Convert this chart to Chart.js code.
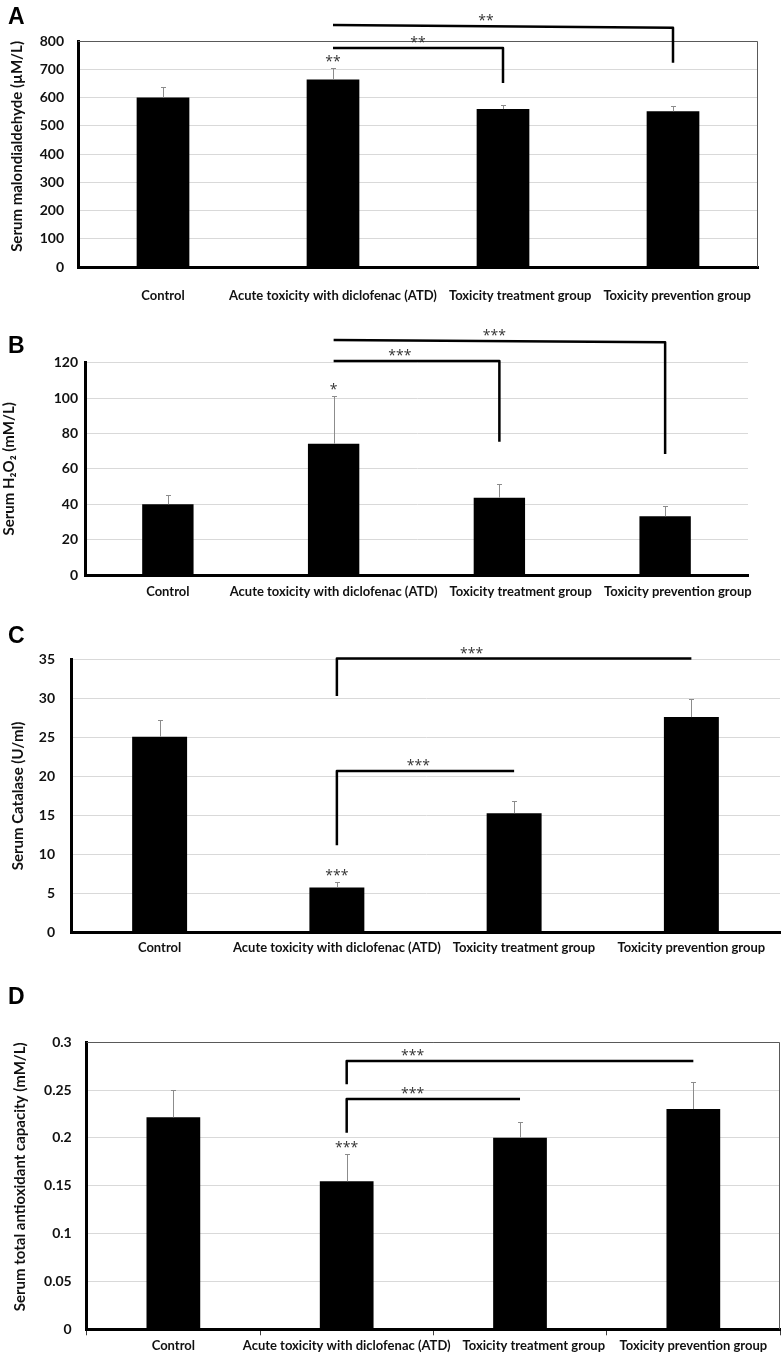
<!DOCTYPE html>
<html>
<head>
<meta charset="utf-8">
<script src="https://cdn.jsdelivr.net/npm/chart.js@4.4.1/dist/chart.umd.min.js"></script>
<style>
html,body{margin:0;padding:0;background:#fff;}
#page{position:relative;width:783px;height:1353px;overflow:hidden;background:#fff;}
.panel{position:absolute;left:0;width:783px;}
.letter{position:absolute;left:8px;font-family:"Liberation Sans",Arial,sans-serif;font-weight:bold;font-size:23px;line-height:23px;color:#000;}
</style>
</head>
<body>
<div id="page">
  <div class="panel" style="top:0px;height:310px"><canvas id="cA"></canvas></div>
  <div class="panel" style="top:310px;height:300px"><canvas id="cB"></canvas></div>
  <div class="panel" style="top:610px;height:350px"><canvas id="cC"></canvas></div>
  <div class="panel" style="top:960px;height:393px"><canvas id="cD"></canvas></div>
  <div class="letter" style="top:5px">A</div>
  <div class="letter" style="top:334px">B</div>
  <div class="letter" style="top:624px">C</div>
  <div class="letter" style="top:985px">D</div>
</div>
<script>
// ---------------- DATA ----------------
const categories = ['Control', 'Acute toxicity with diclofenac (ATD)', 'Toxicity treatment group', 'Toxicity prevention group'];

// A: Serum malondialdehyde (µM/L)
const mdaMean = [600, 664, 559, 551];
const mdaSD   = [36, 39, 13, 19];
const mdaStars = ['', '**', '', ''];
const mdaTicks = [0, 100, 200, 300, 400, 500, 600, 700, 800];
const mdaBrackets = [
  {from: 1, to: 2, lineStart: 775, lineEnd: 775, drop: 651, dropAt: 'to', label: '**', labelAt: 1.5},
  {from: 1, to: 3, lineStart: 857, lineEnd: 847, drop: 723, dropAt: 'to', label: '**', labelAt: 1.9}
];

// B: Serum H2O2 (mM/L)
const h2o2Mean = [40, 74.2, 43.7, 33.2];
const h2o2SD   = [5, 27, 8, 5.6];
const h2o2Stars = ['', '*', '', ''];
const h2o2Ticks = [0, 20, 40, 60, 80, 100, 120];
const h2o2Brackets = [
  {from: 1, to: 2, lineStart: 121, lineEnd: 121, drop: 75.3, dropAt: 'to', label: '***', labelAt: 1.4},
  {from: 1, to: 3, lineStart: 132.8, lineEnd: 131.5, drop: 68.4, dropAt: 'to', label: '***', labelAt: 1.97}
];

// C: Serum Catalase (U/ml)
const catMean = [25.1, 5.8, 15.3, 27.6];
const catSD   = [2.1, 0.7, 1.5, 2.3];
const catStars = ['', '***', '', ''];
const catTicks = [0, 5, 10, 15, 20, 25, 30, 35];
const catBrackets = [
  {from: 1, to: 2, lineStart: 20.7, lineEnd: 20.7, drop: 11.2, dropAt: 'from', label: '***', labelAt: 1.46},
  {from: 1, to: 3, lineStart: 35.1, lineEnd: 35.1, drop: 30.3, dropAt: 'from', label: '***', labelAt: 1.76}
];

// D: Serum total antioxidant capacity (mM/L)
const taoMean = [0.2216, 0.1547, 0.2003, 0.2303];
const taoSD   = [0.029, 0.0285, 0.0167, 0.028];
const taoStars = ['', '***', '', ''];
const taoTicks = [0, 0.05, 0.1, 0.15, 0.2, 0.25, 0.3];
const taoBrackets = [
  {from: 1, to: 2, lineStart: 0.2407, lineEnd: 0.2407, drop: 0.2055, dropAt: 'from', label: '***', labelAt: 1.38},
  {from: 1, to: 3, lineStart: 0.2805, lineEnd: 0.2805, drop: 0.2561, dropAt: 'from', label: '***', labelAt: 1.38}
];

// ---------------- PLUGIN ----------------
const annotPlugin = {
  id: 'annot',
  afterDraw(chart, args, o) {
    const {ctx, chartArea: ca, scales: {x, y}} = chart;
    ctx.save();
    // plot-area frame (top + right)
    if (o.box) {
      ctx.strokeStyle = '#595959';
      ctx.lineWidth = 1;
      ctx.beginPath();
      ctx.moveTo(ca.left, Math.round(ca.top) + 0.5);
      ctx.lineTo(Math.round(ca.right) - 0.5, Math.round(ca.top) + 0.5);
      ctx.lineTo(Math.round(ca.right) - 0.5, ca.bottom);
      ctx.stroke();
    }
    // error bars (upper)
    ctx.strokeStyle = '#8c8c8c';
    ctx.lineWidth = 1;
    o.mean.forEach((m, i) => {
      const cx = Math.round(x.getPixelForValue(i)) + 0.5;
      const y0 = y.getPixelForValue(m);
      const y1 = Math.round(y.getPixelForValue(m + o.sd[i])) + 0.5;
      ctx.beginPath();
      ctx.moveTo(cx, y0); ctx.lineTo(cx, y1);
      ctx.moveTo(cx - 2.5, y1); ctx.lineTo(cx + 2.5, y1);
      ctx.stroke();
    });
    // stars over bars
    ctx.fillStyle = '#333';
    ctx.font = '14px "Open Sans"';
    ctx.textAlign = 'center';
    ctx.textBaseline = 'alphabetic';
    o.stars.forEach((s, i) => {
      if (!s) return;
      const yt = y.getPixelForValue(o.mean[i] + o.sd[i]);
      ctx.fillText(s, x.getPixelForValue(i), yt - 2);
    });
    // significance brackets
    o.brackets.forEach(b => {
      const xa = x.getPixelForValue(b.from), xb = x.getPixelForValue(b.to);
      const ya = y.getPixelForValue(b.lineStart), yb = y.getPixelForValue(b.lineEnd);
      const yd = y.getPixelForValue(b.drop);
      ctx.strokeStyle = '#000';
      ctx.lineWidth = 2.5;
      ctx.lineJoin = 'round';
      ctx.beginPath();
      if (b.dropAt === 'to') {
        ctx.moveTo(xa, ya); ctx.lineTo(xb, yb); ctx.lineTo(xb, yd);
      } else {
        ctx.moveTo(xa, yd); ctx.lineTo(xa, ya); ctx.lineTo(xb, yb);
      }
      ctx.stroke();
      const t = (b.labelAt - b.from) / (b.to - b.from);
      const yl = y.getPixelForValue(b.lineStart + (b.lineEnd - b.lineStart) * t);
      ctx.fillText(b.label, x.getPixelForValue(b.labelAt), yl - 1);
    });
    // category labels (shifted right when they would collide, like the original)
    ctx.fillStyle = '#111';
    ctx.font = '700 13px Lato';
    ctx.textAlign = 'left';
    ctx.textBaseline = 'middle';
    let prevEnd = -Infinity;
    chart.data.labels.forEach((lab, i) => {
      const w = ctx.measureText(lab).width;
      let s = x.getPixelForValue(i) - w / 2;
      if (s < prevEnd + o.gap) s = prevEnd + o.gap;
      ctx.fillText(lab, s, ca.bottom + o.labelDy);
      prevEnd = s + w;
    });
    ctx.restore();
  }
};

// ---------------- CHARTS ----------------
function makeChart(cfg) {
  const top = cfg.top, H = cfg.height, a = cfg.area;
  return new Chart(document.getElementById(cfg.id), {
    type: 'bar',
    data: {
      labels: categories,
      datasets: [{
        data: cfg.mean,
        backgroundColor: '#000',
        borderWidth: 0,
        barPercentage: 0.31,
        categoryPercentage: 1
      }]
    },
    options: {
      responsive: true,
      maintainAspectRatio: false,
      animation: false,
      layout: {padding: {left: 0, top: a.t - top, right: 783 - a.r, bottom: top + H - a.b}},
      plugins: {
        legend: {display: false},
        tooltip: {enabled: false},
        annot: {
          mean: cfg.mean, sd: cfg.sd, stars: cfg.stars, brackets: cfg.brackets,
          box: cfg.box, labelDy: cfg.labelDy, gap: 12
        }
      },
      scales: {
        x: {
          grid: cfg.xTicks
            ? {display: true, drawOnChartArea: false, drawTicks: true, tickLength: 6, color: '#404040', lineWidth: 1, offset: true}
            : {display: false},
          border: {display: true, color: '#000', width: 3},
          ticks: {display: false},
          afterFit: s => { s.height = 0; }
        },
        y: {
          min: cfg.ticks[0],
          max: cfg.ticks[cfg.ticks.length - 1],
          afterBuildTicks: s => { s.ticks = cfg.ticks.map(v => ({value: v})); },
          ticks: {
            padding: cfg.tickPad,
            color: '#111',
            font: {family: 'Lato', weight: '700', size: 14},
            callback: v => String(Number(v.toFixed(3)))
          },
          grid: {color: '#d9d9d9', lineWidth: 1, drawTicks: false},
          border: {display: true, color: '#000', width: 3},
          title: {
            display: true,
            text: cfg.title,
            color: '#111',
            align: cfg.titleAlign,
            font: {family: 'Lato', weight: '700', size: 15},
            padding: {top: cfg.titlePad, bottom: 0}
          },
          afterFit: s => { s.width = a.l; }
        }
      }
    },
    plugins: [annotPlugin]
  });
}

makeChart({id: 'cA', top: 0, height: 310, area: {l: 78, r: 758, t: 41, b: 267},
  mean: mdaMean, sd: mdaSD, stars: mdaStars, brackets: mdaBrackets, ticks: mdaTicks,
  title: 'Serum malondialdehyde (µM/L)', titleAlign: 'end', titlePad: 8, tickPad: 14,
  box: true, labelDy: 29, xTicks: false});

makeChart({id: 'cB', top: 310, height: 300, area: {l: 85, r: 748, t: 362.7, b: 575},
  mean: h2o2Mean, sd: h2o2SD, stars: h2o2Stars, brackets: h2o2Brackets, ticks: h2o2Ticks,
  title: 'Serum H₂O₂ (mM/L)', titleAlign: 'center', titlePad: 0, tickPad: 7,
  box: false, labelDy: 17, xTicks: false});

makeChart({id: 'cC', top: 610, height: 350, area: {l: 71, r: 780, t: 659.3, b: 932.7},
  mean: catMean, sd: catSD, stars: catStars, brackets: catBrackets, ticks: catTicks,
  title: 'Serum Catalase (U/ml)', titleAlign: 'center', titlePad: 9, tickPad: 16,
  box: false, labelDy: 15, xTicks: false});

makeChart({id: 'cD', top: 960, height: 393, area: {l: 86.7, r: 780, t: 1042.3, b: 1329.3},
  mean: taoMean, sd: taoSD, stars: taoStars, brackets: taoBrackets, ticks: taoTicks,
  title: 'Serum total antioxidant capacity (mM/L)', titleAlign: 'end', titlePad: 11, tickPad: 15,
  box: true, labelDy: 17, xTicks: true});
</script>
</body>
</html>
